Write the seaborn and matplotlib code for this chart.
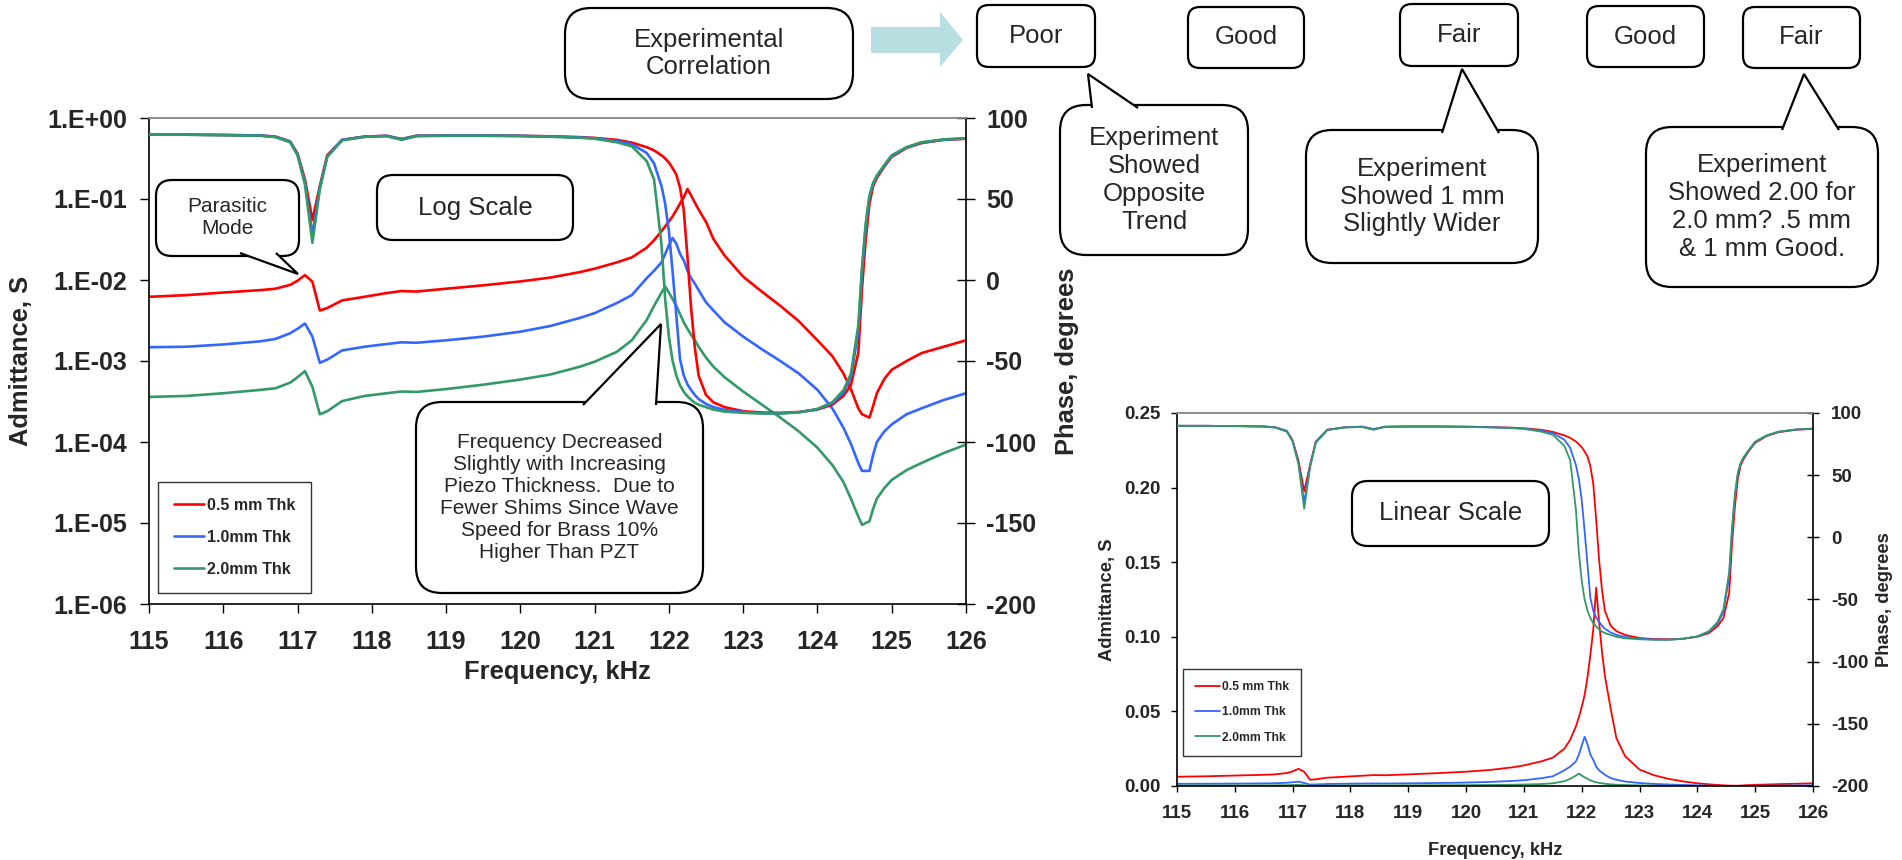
import matplotlib
matplotlib.use('Agg')
import numpy as np
import pandas as pd
import matplotlib.pyplot as plt
import seaborn as sns
from matplotlib.patches import FancyBboxPatch, Polygon
from matplotlib.ticker import NullLocator

# dados (frequencia em kHz)
freq_khz = [115.0, 115.5, 116.0, 116.5, 116.7, 116.9, 117.0, 117.1, 117.2, 117.3,
            117.4, 117.6, 117.9, 118.2, 118.4, 118.6, 119.0, 119.5, 120.0, 120.4,
            120.8, 121.0, 121.3, 121.5, 121.7, 121.8, 121.9, 121.95, 122.0, 122.05,
            122.1, 122.15, 122.2, 122.25, 122.3, 122.35, 122.4, 122.5, 122.6, 122.75,
            123.0, 123.25, 123.5, 123.75, 124.0, 124.2, 124.35, 124.45, 124.55, 124.6,
            124.65, 124.7, 124.75, 124.8, 124.9, 125.0, 125.2, 125.4, 125.7, 126.0]

adm_05mm = [6.2e-3, 6.5e-3, 7.0e-3, 7.5e-3, 7.8e-3, 8.7e-3, 9.8e-3, 1.15e-2, 9.5e-3, 4.2e-3,
            4.5e-3, 5.6e-3, 6.2e-3, 6.9e-3, 7.3e-3, 7.2e-3, 7.8e-3, 8.6e-3, 9.6e-3, 1.07e-2,
            1.25e-2, 1.38e-2, 1.65e-2, 1.9e-2, 2.5e-2, 3.1e-2, 4.0e-2, 4.6e-2, 5.3e-2, 6.1e-2,
            7.3e-2, 8.8e-2, 0.105, 0.133, 0.11, 0.09, 0.074, 0.052, 0.032, 0.020,
            0.011, 0.0072, 0.0048, 0.0031, 0.0018, 0.00115, 0.0007, 0.00045, 0.00026, 0.00022,
            0.00021, 0.0002, 0.00028, 0.0004, 0.0006, 0.00078, 0.001, 0.00125, 0.0015, 0.0018]

adm_10mm = [1.48e-3, 1.5e-3, 1.6e-3, 1.75e-3, 1.87e-3, 2.2e-3, 2.5e-3, 2.9e-3, 2.0e-3, 9.5e-4,
            1.04e-3, 1.35e-3, 1.5e-3, 1.62e-3, 1.7e-3, 1.68e-3, 1.8e-3, 2.0e-3, 2.3e-3, 2.7e-3,
            3.4e-3, 3.9e-3, 5.2e-3, 6.5e-3, 1.05e-2, 1.3e-2, 1.65e-2, 2.1e-2, 2.7e-2, 3.3e-2,
            2.8e-2, 2.1e-2, 1.75e-2, 1.3e-2, 1.05e-2, 9.0e-3, 7.5e-3, 5.3e-3, 4.2e-3, 3.0e-3,
            2.0e-3, 1.4e-3, 1.0e-3, 7.0e-4, 4.4e-4, 2.6e-4, 1.5e-4, 9.5e-5, 5.5e-5, 4.4e-5,
            4.4e-5, 4.4e-5, 7.0e-5, 1.0e-4, 1.35e-4, 1.65e-4, 2.2e-4, 2.6e-4, 3.3e-4, 4.0e-4]

adm_20mm = [3.6e-4, 3.7e-4, 4.0e-4, 4.4e-4, 4.6e-4, 5.4e-4, 6.3e-4, 7.5e-4, 4.8e-4, 2.2e-4,
            2.4e-4, 3.2e-4, 3.7e-4, 4.0e-4, 4.2e-4, 4.15e-4, 4.5e-4, 5.1e-4, 5.9e-4, 6.8e-4,
            8.5e-4, 9.8e-4, 1.3e-3, 1.8e-3, 3.2e-3, 4.8e-3, 7.0e-3, 8.3e-3, 7.0e-3, 5.8e-3,
            4.8e-3, 3.8e-3, 3.0e-3, 2.5e-3, 2.1e-3, 1.8e-3, 1.5e-3, 1.1e-3, 8.5e-4, 6.3e-4,
            4.2e-4, 2.9e-4, 2.0e-4, 1.35e-4, 8.5e-5, 5.2e-5, 3.2e-5, 2.0e-5, 1.2e-5, 9.5e-6,
            1.0e-5, 1.05e-5, 1.5e-5, 2.0e-5, 2.7e-5, 3.4e-5, 4.5e-5, 5.5e-5, 7.3e-5, 9.3e-5]

phase_05mm = [89.7, 89.7, 89.5, 89.2, 88.5, 85.5, 78.0, 62.0, 37.0, 58.0,
              77.0, 86.5, 88.5, 89.0, 87.0, 89.0, 89.2, 89.2, 89.0, 88.7,
              88.2, 87.7, 86.5, 84.8, 82.0, 80.0, 77.0, 75.0, 72.5, 69.0,
              65.0, 57.0, 43.0, 14.0, -18.0, -42.0, -59.0, -71.0, -75.5, -78.5,
              -81.0, -81.8, -82.0, -81.5, -80.0, -77.0, -71.5, -65.0, -45.0, -5.0,
              25.0, 47.0, 58.0, 63.0, 70.0, 76.0, 81.5, 84.5, 86.5, 87.2]

phase_10mm = [89.7, 89.7, 89.5, 89.2, 88.5, 85.5, 77.5, 60.0, 28.0, 57.0,
              76.5, 86.5, 88.5, 89.0, 87.0, 89.0, 89.2, 89.2, 89.0, 88.6,
              88.0, 87.5, 85.8, 83.8, 78.5, 72.0, 58.0, 47.0, 30.0, 5.0,
              -22.0, -49.0, -59.0, -64.5, -68.0, -71.0, -73.5, -76.5, -78.5, -80.2,
              -81.5, -82.2, -82.3, -81.6, -79.8, -76.0, -69.5, -60.0, -32.0, 5.0,
              33.0, 51.0, 59.5, 64.0, 70.5, 76.5, 81.8, 84.8, 86.6, 87.4]

phase_20mm = [89.7, 89.7, 89.4, 89.0, 88.2, 85.0, 77.0, 59.0, 23.0, 56.0,
              76.0, 86.2, 88.3, 88.8, 86.5, 88.8, 89.0, 89.0, 88.8, 88.4,
              87.8, 87.2, 85.0, 82.5, 73.5, 62.0, 22.0, -12.0, -35.0, -50.0,
              -59.0, -65.0, -69.0, -71.8, -74.0, -75.8, -77.0, -78.5, -80.0, -81.2,
              -82.0, -82.4, -82.4, -81.7, -79.6, -75.5, -68.0, -58.0, -28.0, 8.0,
              35.0, 52.0, 60.0, 64.5, 71.0, 77.0, 82.0, 85.0, 86.8, 87.5]

series_labels = ['0.5 mm Thk', '1.0mm Thk', '2.0mm Thk']
series_colors = ['#ff0000', '#3366ff', '#339966']

freq_ticks = list(range(115, 127))
log_ticks = [1e0, 1e-1, 1e-2, 1e-3, 1e-4, 1e-5, 1e-6]
log_tick_labels = ['1.E+00', '1.E-01', '1.E-02', '1.E-03', '1.E-04', '1.E-05', '1.E-06']
lin_ticks = [0.0, 0.05, 0.10, 0.15, 0.20, 0.25]
lin_tick_labels = ['0.00', '0.05', '0.10', '0.15', '0.20', '0.25']
phase_ticks = [100, 50, 0, -50, -100, -150, -200]

# tabela longa para o seaborn
partes = []
for lab, adm, fase in zip(series_labels, [adm_05mm, adm_10mm, adm_20mm],
                          [phase_05mm, phase_10mm, phase_20mm]):
    partes.append(pd.DataFrame({'freq': freq_khz, 'adm': adm, 'fase': fase, 'serie': lab}))
df = pd.concat(partes, ignore_index=True)
paleta = dict(zip(series_labels, series_colors))

sns.set_style('ticks')
plt.rcParams['font.family'] = ['Liberation Sans', 'DejaVu Sans']
plt.rcParams['axes.unicode_minus'] = False

W, H = 1902, 860
fig = plt.figure(figsize=(W / 100, H / 100), dpi=100)


def eixo_px(left, top, right, bottom):
    return fig.add_axes([left / W, 1 - bottom / H, (right - left) / W, (bottom - top) / H])


def grafico(ax, log, fs_tick, fs_lab, lw, tk, pads, xlab_y, ylab_x, leg):
    sns.lineplot(data=df, x='freq', y='adm', hue='serie', palette=paleta, ax=ax,
                 legend=False, linewidth=lw, sort=False)
    ax2 = ax.twinx()
    sns.lineplot(data=df, x='freq', y='fase', hue='serie', palette=paleta, ax=ax2,
                 legend=False, linewidth=lw, sort=False)
    ax.set_xlim(115, 126)
    ax.set_xticks(freq_ticks, [str(t) for t in freq_ticks], fontsize=fs_tick, fontweight='bold')
    if log:
        ax.set_yscale('log')
        ax.set_ylim(1e-6, 1)
        ax.set_yticks(log_ticks, log_tick_labels, fontsize=fs_tick, fontweight='bold')
        ax.yaxis.set_minor_locator(NullLocator())
    else:
        ax.set_ylim(0, 0.25)
        ax.set_yticks(lin_ticks, lin_tick_labels, fontsize=fs_tick, fontweight='bold')
    ax2.set_ylim(-200, 100)
    ax2.set_yticks(phase_ticks, [str(t) for t in phase_ticks], fontsize=fs_tick, fontweight='bold')

    ax.tick_params(axis='x', direction='out', length=tk, width=1, pad=pads[0], color='black')
    ax.tick_params(axis='y', direction='out', length=tk, width=1, pad=pads[1], color='black')
    ax2.tick_params(axis='y', direction='inout', length=2 * tk, width=1, pad=pads[2], color='black')

    for a in (ax, ax2):
        a.spines['top'].set_color('#8c8c8c')
        a.spines['top'].set_linewidth(1.2)
    ax.spines['right'].set_visible(False)
    ax2.spines['left'].set_visible(False)
    ax2.spines['bottom'].set_visible(False)
    for s in ('left', 'bottom'):
        ax.spines[s].set_color('black')
        ax.spines[s].set_linewidth(1.2)
    ax2.spines['right'].set_color('black')
    ax2.spines['right'].set_linewidth(1.2)

    ax.set_xlabel('Frequency, kHz', fontsize=fs_lab, fontweight='bold')
    ax.set_ylabel('Admittance, S', fontsize=fs_lab, fontweight='bold')
    ax2.set_ylabel('Phase, degrees', fontsize=fs_lab, fontweight='bold')
    ax.xaxis.set_label_coords(0.5, xlab_y)
    ax.yaxis.set_label_coords(ylab_x[0], 0.5)
    ax2.yaxis.set_label_coords(ylab_x[1], 0.5)
    ax.xaxis.label.set_va('center')
    ax.yaxis.label.set_va('center')
    ax2.yaxis.label.set_va('center')

    handles = ax.get_lines()[:3]
    lg = ax2.legend(handles, series_labels, loc='upper left', bbox_to_anchor=leg['anchor'],
                    prop={'weight': 'bold', 'size': leg['size']}, frameon=True, fancybox=False,
                    framealpha=1, edgecolor='#333333', borderpad=leg['pad'],
                    handlelength=leg['hl'], handletextpad=0.15, labelspacing=leg['sp'],
                    borderaxespad=0)
    lg.get_frame().set_linewidth(1.0)
    return ax2


# grafico em escala log
ax_log = eixo_px(149, 118, 966, 604)
grafico(ax_log, True, 18, 18.4, 1.9, 6.5, (12.5, 9.3, 8.0), -0.140, (-0.1567, 1.1236),
        {'anchor': (0.011, 0.251), 'size': 11.5, 'pad': 1.0, 'hl': 1.9, 'sp': 1.05})

# grafico em escala linear
ax_lin = eixo_px(1177, 413, 1813, 786)
grafico(ax_lin, False, 13.5, 13.2, 1.3, 4.5, (9.4, 7.2, 8.5), -0.1716, (-0.1085, 1.1132),
        {'anchor': (0.0094, 0.314), 'size': 8.7, 'pad': 1.0, 'hl': 2.1, 'sp': 1.1})

# camada de anotacoes em pixels (y para baixo)
over = fig.add_axes([0, 0, 1, 1], zorder=10)
over.set_xlim(0, W)
over.set_ylim(H, 0)
over.axis('off')
over.patch.set_alpha(0)


def balao(x0, y0, x1, y1, texto, fs, raio=14, cauda=None):
    caixa = FancyBboxPatch((x0, y0), x1 - x0, y1 - y0,
                           boxstyle='round,pad=0,rounding_size=%g' % raio,
                           fc='white', ec='black', lw=1.6, zorder=2)
    over.add_patch(caixa)
    if cauda is not None:
        bx0, bx1, by, tip = cauda
        dentro = 3 if by == y0 else -3
        tri = Polygon([(bx0, by + dentro), tip, (bx1, by + dentro)], closed=False,
                      fc='white', ec='black', lw=1.6, zorder=3)
        over.add_patch(tri)
    over.text((x0 + x1) / 2, (y0 + y1) / 2, texto, ha='center', va='center',
              fontsize=fs, linespacing=1.2, zorder=4)


balao(565, 8, 853, 99, 'Experimental\nCorrelation', 18.5, raio=26)
over.add_patch(Polygon([(871, 27), (940, 27), (940, 12), (963, 40), (940, 67), (940, 53), (871, 53)],
                       closed=True, fc='#b7dfe2', ec='none', zorder=2))

balao(977, 5, 1095, 67, 'Poor', 18.5, raio=12)
balao(1188, 7, 1304, 68, 'Good', 18.5, raio=12)
balao(1400, 4, 1518, 66, 'Fair', 18.5, raio=12)
balao(1587, 6, 1704, 67, 'Good', 18.5, raio=12)
balao(1743, 7, 1860, 68, 'Fair', 18.5, raio=12)

balao(1060, 105, 1248, 255, 'Experiment\nShowed\nOpposite\nTrend', 18.5, raio=26,
      cauda=(1092, 1138, 105, (1088, 74)))
balao(1306, 130, 1538, 263, 'Experiment\nShowed 1 mm\nSlightly Wider', 18.5, raio=26,
      cauda=(1442, 1499, 130, (1462, 69)))
balao(1646, 127, 1878, 287, 'Experiment\nShowed 2.00 for\n2.0 mm? .5 mm\n& 1 mm Good.', 18.5, raio=26,
      cauda=(1782, 1839, 127, (1804, 74)))

balao(156, 180, 299, 256, 'Parasitic\nMode', 15, raio=16, cauda=(240, 276, 256, (298, 274)))
balao(377, 175, 573, 240, 'Log Scale', 18.5, raio=16)
balao(416, 402, 703, 593, 'Frequency Decreased\nSlightly with Increasing\nPiezo Thickness.  Due to\n'
      'Fewer Shims Since Wave\nSpeed for Brass 10%\nHigher Than PZT', 15, raio=26,
      cauda=(583, 656, 402, (661, 324)))
balao(1352, 481, 1549, 546, 'Linear Scale', 18.5, raio=16)

fig.savefig('out.png', dpi=100)
plt.close(fig)
